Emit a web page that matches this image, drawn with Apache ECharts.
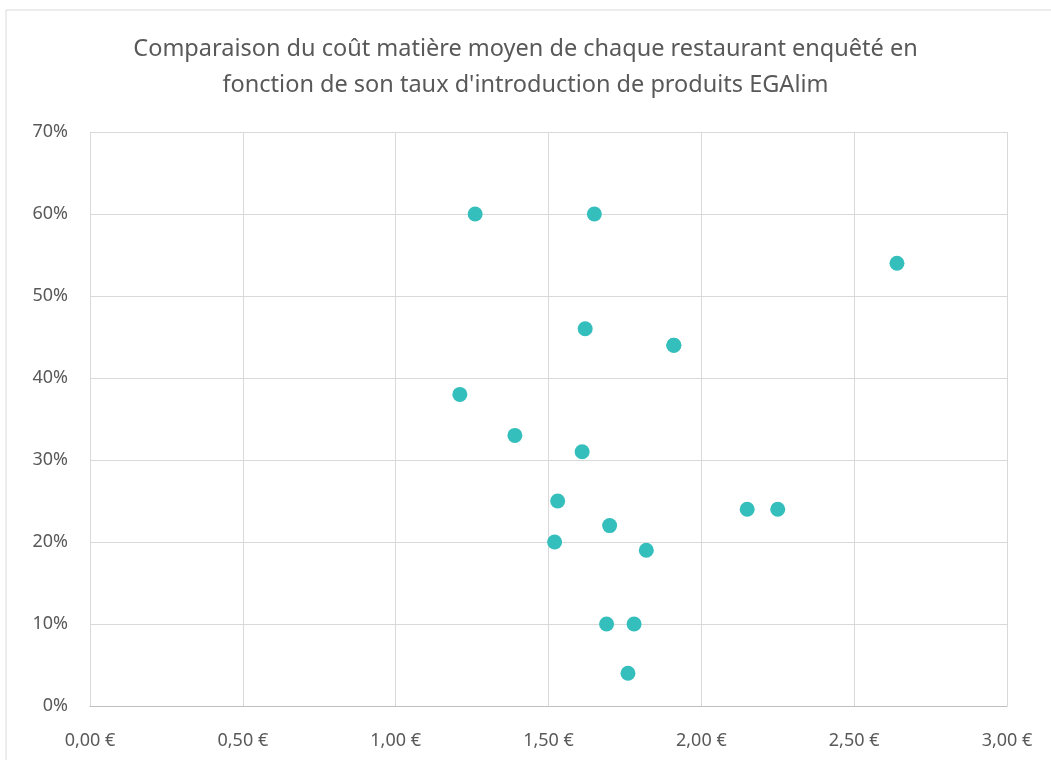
<!DOCTYPE html>
<html>
<head>
<meta charset="utf-8">
<script src="https://cdn.jsdelivr.net/npm/echarts@6/dist/echarts.min.js"></script>
<style>
  html, body { margin: 0; padding: 0; background: #fff; }
  #chart { width: 1051px; height: 760px; }
</style>
</head>
<body>
<div id="chart"></div>
<script>
// coût matière moyen (€) et taux EGAlim (%)
var couts = [1.26, 1.65, 2.64, 1.62, 1.91, 1.91, 1.21, 1.39, 1.61, 1.53, 2.15, 2.25, 1.70, 1.52, 1.82, 1.69, 1.78, 1.76];
var taux  = [0.60, 0.60, 0.54, 0.46, 0.44, 0.44, 0.38, 0.33, 0.31, 0.25, 0.24, 0.24, 0.22, 0.20, 0.19, 0.10, 0.10, 0.04];

var titre = "Comparaison du coût matière moyen de chaque restaurant enquêté en\nfonction de son taux d'introduction de produits EGAlim";

var points = couts.map(function (c, i) { return [c, taux[i]]; });

var myChart = echarts.init(document.getElementById('chart'));
myChart.setOption({
  animation: false,
  textStyle: { fontFamily: 'Noto Sans' },
  graphic: [{
    type: 'rect',
    shape: { x: 6, y: 10, width: 1060, height: 780 },
    style: { fill: 'none', stroke: '#d9d9d9', lineWidth: 1 },
    silent: true
  }],
  title: {
    text: titre,
    left: 'center',
    top: 26,
    textStyle: { fontSize: 23.5, fontWeight: 'normal', color: '#595959', lineHeight: 36, fontFamily: 'Noto Sans' }
  },
  grid: { left: 90, right: 44, top: 132, bottom: 54 },
  xAxis: {
    type: 'value',
    min: 0, max: 3, interval: 0.5,
    axisLine: { show: true, lineStyle: { color: '#bfbfbf', width: 1 } },
    axisTick: { show: false },
    splitLine: { show: true, lineStyle: { color: '#d9d9d9', width: 1 } },
    axisLabel: {
      margin: 26, fontSize: 18, color: '#595959',
      formatter: function (v) { return v.toFixed(2).replace('.', ',') + ' €'; }
    }
  },
  yAxis: {
    type: 'value',
    min: 0, max: 0.7, interval: 0.1,
    axisLine: { show: false },
    axisTick: { show: false },
    splitLine: { show: true, lineStyle: { color: '#d9d9d9', width: 1 } },
    axisLabel: {
      margin: 22, fontSize: 18, color: '#595959',
      formatter: function (v) { return Math.round(v * 100) + '%'; }
    }
  },
  series: [{
    type: 'scatter',
    symbolSize: 15,
    itemStyle: { color: '#35bfbc', opacity: 1 },
    data: points
  }]
});
</script>
</body>
</html>
